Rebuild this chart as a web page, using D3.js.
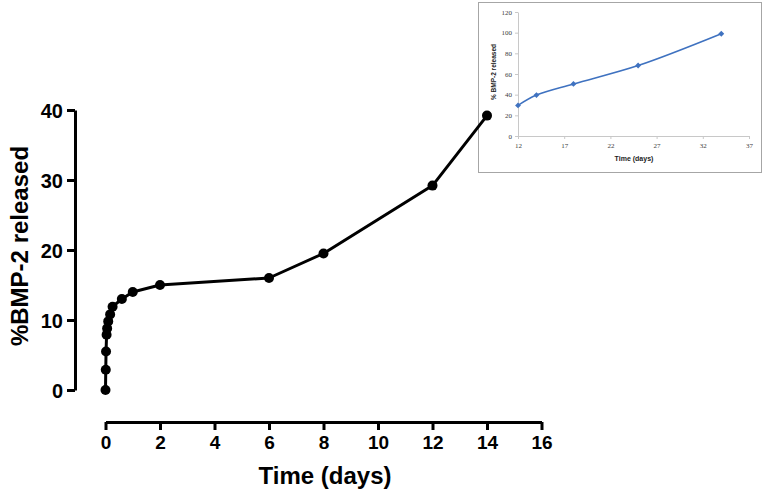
<!DOCTYPE html>
<html lang="en">
<head>
    <meta charset="UTF-8">
    <title>BMP-2 release</title>
    <script src="https://cdn.jsdelivr.net/npm/d3@7"></script>
    <style>
        body { margin: 0; background: #ffffff; }
        text { font-family: "Liberation Sans", Arial, sans-serif; }
    </style>
</head>
<body>
<div id="container"></div>
<script>

    // main chart: cumulative release over first 14 days
    const days = [0, 0.01, 0.02, 0.04, 0.06, 0.1, 0.17, 0.26, 0.6, 1, 2, 6, 8, 12, 14];
    const released = [0, 2.9, 5.5, 7.9, 8.8, 9.8, 10.8, 11.9, 13.0, 14.0, 15.0, 16.0, 19.5, 29.2, 39.2];
    const xTicks = [0, 2, 4, 6, 8, 10, 12, 14, 16];
    const yTicks = [0, 10, 20, 30, 40];

    // inset: later release (days 12-34)
    const insetDays = [12, 14, 18, 25, 34];
    const insetReleased = [29.6, 39.6, 50.4, 68.2, 99];
    const insetXTicks = [12, 17, 22, 27, 32, 37];
    const insetYTicks = [0, 20, 40, 60, 80, 100, 120];

    let svg = d3.select("#container")
        .append("svg")
        .attr("width", 765)
        .attr("height", 497)
        .style("background-color", "#ffffff");

    /*----------------------------- inset (drawn first, sits behind) -----------------------------*/
    let inset = svg.append("g");
    inset.append("rect")
        .attr("x", 478.5).attr("y", 2.5)
        .attr("width", 283).attr("height", 170)
        .attr("fill", "#ffffff")
        .attr("stroke", "#a6a6a6")
        .attr("stroke-width", 1);

    let ix = d3.scaleLinear().domain([12, 37]).range([518, 749]);
    let iy = d3.scaleLinear().domain([0, 120]).range([136, 12]);

    let ixAxis = inset.append("g")
        .attr("transform", "translate(0,136)")
        .call(d3.axisBottom(ix).tickValues(insetXTicks).tickSize(3).tickPadding(4).tickSizeOuter(0));
    let iyAxis = inset.append("g")
        .attr("transform", "translate(518,0)")
        .call(d3.axisLeft(iy).tickValues(insetYTicks).tickSize(3).tickPadding(3).tickSizeOuter(0));
    [ixAxis, iyAxis].forEach(a => {
        a.select(".domain").attr("stroke", "#c8c8c8");
        a.selectAll(".tick line").attr("stroke", "#c8c8c8");
        a.selectAll(".tick text")
            .attr("font-size", 7).attr("fill", "#404040")
            .style("font-family", "'Liberation Serif', serif");
    });

    inset.append("text")
        .attr("x", 634).attr("y", 161)
        .attr("text-anchor", "middle")
        .attr("font-size", 7).attr("font-weight", "bold").attr("fill", "#222")
        .text("Time (days)");
    inset.append("text")
        .attr("transform", "translate(496,72) rotate(-90)")
        .attr("text-anchor", "middle")
        .attr("font-size", 6.5).attr("font-weight", "bold").attr("fill", "#222")
        .text("% BMP-2 released");

    let iline = d3.line()
        .x((d, i) => ix(insetDays[i]))
        .y(d => iy(d))
        .curve(d3.curveCatmullRom);
    inset.append("path")
        .datum(insetReleased)
        .attr("d", iline)
        .attr("fill", "none")
        .attr("stroke", "#3f72c0")
        .attr("stroke-width", 1.6);

    inset.selectAll(".diamond")
        .data(insetReleased)
        .enter().append("path")
        .attr("class", "diamond")
        .attr("transform", (d, i) => "translate(" + ix(insetDays[i]) + "," + iy(d) + ")")
        .attr("d", d3.symbol().type(d3.symbolDiamond2).size(22))
        .attr("fill", "#3f72c0");

    /*----------------------------- main chart -----------------------------*/
    let x = d3.scaleLinear().domain([0, 16]).range([105.5, 541.5]);
    let y = d3.scaleLinear().domain([0, 40]).range([390, 110]);

    // x axis (offset below the data)
    let xAxis = svg.append("g")
        .attr("transform", "translate(0,422)")
        .call(d3.axisBottom(x).tickValues(xTicks).tickSize(8).tickPadding(6).tickSizeOuter(0));
    xAxis.select(".domain").attr("stroke", "#000").attr("stroke-width", 3);
    xAxis.selectAll(".tick line").attr("stroke", "#000").attr("stroke-width", 3);
    xAxis.selectAll(".tick text")
        .attr("font-size", 19).attr("font-weight", "bold").attr("fill", "#000")
        .style("font-family", "'Liberation Sans', Arial, sans-serif");

    // y axis (offset left of the data)
    let yAxis = svg.append("g")
        .attr("transform", "translate(75,0)")
        .call(d3.axisLeft(y).tickValues(yTicks).tickSize(8).tickPadding(4).tickSizeOuter(0));
    yAxis.select(".domain").attr("stroke", "#000").attr("stroke-width", 3);
    yAxis.selectAll(".tick line").attr("stroke", "#000").attr("stroke-width", 3);
    yAxis.selectAll(".tick text")
        .attr("font-size", 20).attr("font-weight", "bold").attr("fill", "#000")
        .attr("dy", "0.36em")
        .style("font-family", "'Liberation Sans', Arial, sans-serif");

    svg.append("text")
        .attr("x", 325)
        .attr("y", 484)
        .attr("text-anchor", "middle")
        .attr("font-size", 24)
        .attr("font-weight", "bold")
        .text("Time (days)");

    svg.append("text")
        .attr("transform", "translate(28,246) rotate(-90)")
        .attr("text-anchor", "middle")
        .attr("font-size", 24)
        .attr("font-weight", "bold")
        .text("%BMP-2 released");

    let line = d3.line()
        .x((d, i) => x(days[i]))
        .y(d => y(d));
    svg.append("path")
        .datum(released)
        .attr("d", line)
        .attr("fill", "none")
        .attr("stroke", "#000")
        .attr("stroke-width", 3)
        .attr("stroke-linejoin", "round");

    svg.selectAll(".dot")
        .data(released)
        .enter().append("circle")
        .attr("class", "dot")
        .attr("cx", (d, i) => x(days[i]))
        .attr("cy", d => y(d))
        .attr("r", 5)
        .attr("fill", "#000");

</script>
</body>
</html>
